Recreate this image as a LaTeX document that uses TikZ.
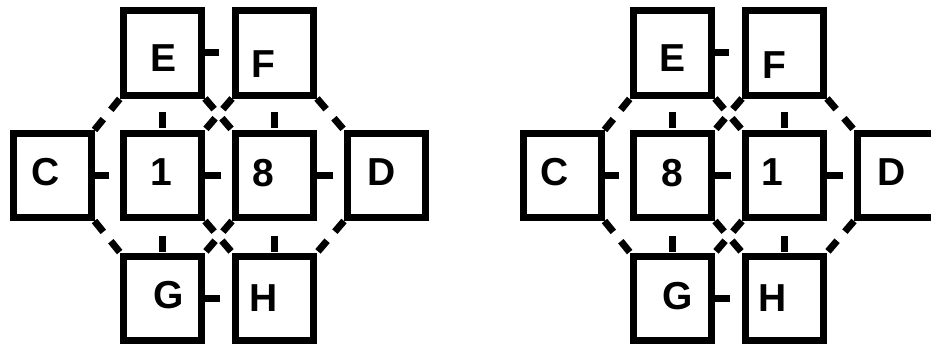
\documentclass[tikz,border=0pt]{standalone}
\usepackage{fontspec}
\setmainfont{Liberation Sans}

\begin{document}
\begin{tikzpicture}[x=1pt,y=-1pt,
    cell/.style={draw,line width=7pt,minimum width=78pt,minimum height=84pt,inner sep=0pt},
    tag/.style={font=\bfseries\fontsize{39}{42}\selectfont,inner sep=0pt},
    port/.style={line width=7pt},
    link/.style={line width=7pt,dash pattern=on 14pt off 12pt}]

   \useasboundingbox (0,0) rectangle (931,345);

   % Cells, left
      \node[cell]  (lE)  at (162.5,53)    {};
      \node[cell]  (lF)  at (274.5,53)    {};
      \node[cell]  (lC)  at (52,175.5)    {};
      \node[cell]  (l1)  at (162.5,175.5) {};
      \node[cell]  (l8)  at (274.5,175.5) {};
      \node[cell]  (lD)  at (386.5,175.5) {};
      \node[cell]  (lG)  at (162.5,298)   {};
      \node[cell]  (lH)  at (274.5,298)   {};

   % Cells, right
      \node[cell]  (rE)  at (672.5,53)    {};
      \node[cell]  (rF)  at (784.5,53)    {};
      \node[cell]  (rC)  at (562,175.5)   {};
      \node[cell]  (r8)  at (672.5,175.5) {};
      \node[cell]  (r1)  at (784.5,175.5) {};
      \node[cell]  (rD)  at (896.5,175.5) {};
      \node[cell]  (rG)  at (672.5,298)   {};
      \node[cell]  (rH)  at (784.5,298)   {};

   % Letters
      \node[tag]  (lEt)  at (163.5,58.5)  {E};
      \node[tag]  (lFt)  at (263.5,64)    {F};
      \node[tag]  (lCt)  at (46,172.5)    {C};
      \node[tag]  (l1t)  at (161,172)     {1};
      \node[tag]  (l8t)  at (263.5,173)   {8};
      \node[tag]  (lDt)  at (382,172.5)   {D};
      \node[tag]  (lGt)  at (169,295.5)   {G};
      \node[tag]  (lHt)  at (264,298)     {H};

      \node[tag]  (rEt)  at (672.5,58)    {E};
      \node[tag]  (rFt)  at (774,65)      {F};
      \node[tag]  (rCt)  at (555,172.5)   {C};
      \node[tag]  (r8t)  at (672,173)     {8};
      \node[tag]  (r1t)  at (772,172)     {1};
      \node[tag]  (rDt)  at (892,172.5)   {D};
      \node[tag]  (rGt)  at (678,296)     {G};
      \node[tag]  (rHt)  at (773,298)     {H};

   % Diagonal links
      \draw[link] (lC.north east) -- (lE.south west);
      \draw[link] (lE.south east) -- (l8.north west);
      \draw[link] (lF.south west) -- (l1.north east);
      \draw[link] (lF.south east) -- (lD.north west);
      \draw[link] (lC.south east) -- (lG.north west);
      \draw[link] (l1.south east) -- (lH.north west);
      \draw[link] (l8.south west) -- (lG.north east);
      \draw[link] (lD.south west) -- (lH.north east);

      \draw[link] (rC.north east) -- (rE.south west);
      \draw[link] (rE.south east) -- (r1.north west);
      \draw[link] (rF.south west) -- (r8.north east);
      \draw[link] (rF.south east) -- (rD.north west);
      \draw[link] (rC.south east) -- (rG.north west);
      \draw[link] (r8.south east) -- (rH.north west);
      \draw[link] (r1.south west) -- (rG.north east);
      \draw[link] (rD.south west) -- (rH.north east);

   % Ports
      \draw[port] (lE.east) -- ++(14,0);
      \draw[port] (lC.east) -- ++(14,0);
      \draw[port] (l1.east) -- ++(16,0);
      \draw[port] (l8.east) -- ++(16,0);
      \draw[port] (lG.east) -- ++(15,0);
      \draw[port] ([yshift=2pt]l1.north) -- ++(0,-16);
      \draw[port] ([yshift=2pt]l8.north) -- ++(0,-16);
      \draw[port] ([yshift=1pt]lG.north) -- ++(0,-16);
      \draw[port] ([yshift=1pt]lH.north) -- ++(0,-16);

      \draw[port] (rE.east) -- ++(14,0);
      \draw[port] (rC.east) -- ++(14,0);
      \draw[port] (r8.east) -- ++(16,0);
      \draw[port] (r1.east) -- ++(16,0);
      \draw[port] (rG.east) -- ++(15,0);
      \draw[port] ([yshift=2pt]r8.north) -- ++(0,-16);
      \draw[port] ([yshift=2pt]r1.north) -- ++(0,-16);
      \draw[port] ([yshift=1pt]rG.north) -- ++(0,-16);
      \draw[port] ([yshift=1pt]rH.north) -- ++(0,-16);
\end{tikzpicture}
\end{document}
